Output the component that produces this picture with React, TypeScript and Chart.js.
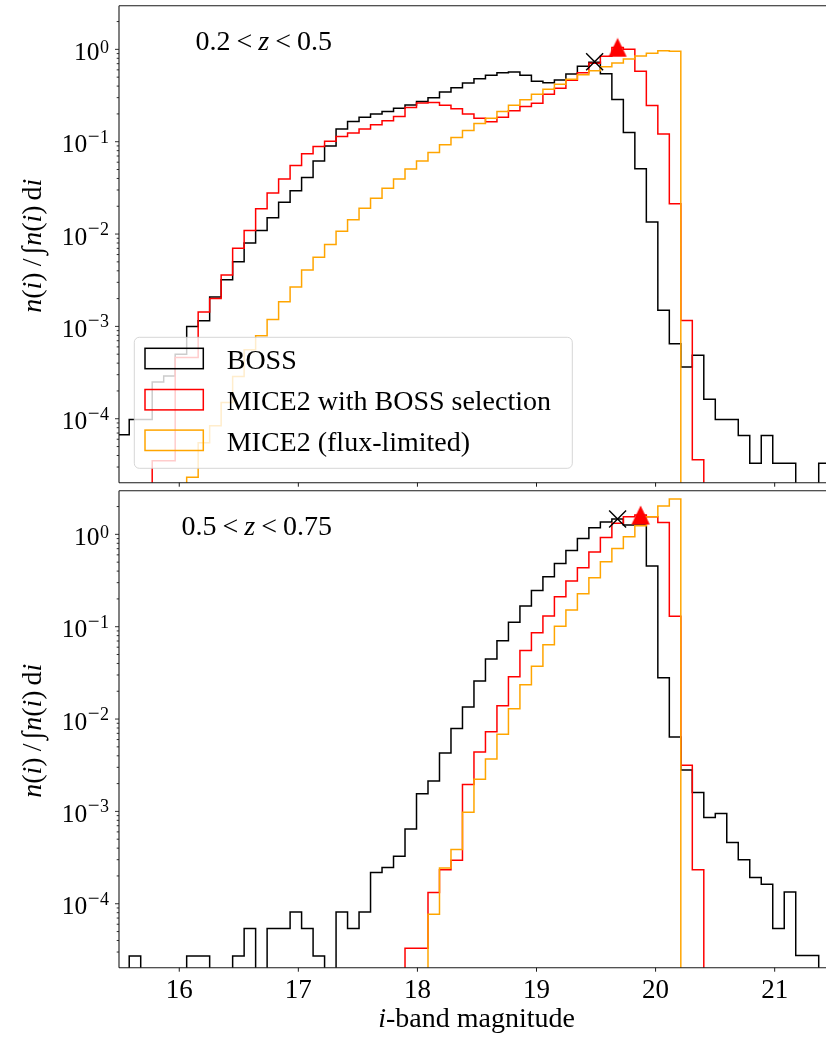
import React, { useEffect, useRef } from "react";
import { Chart, registerables } from "chart.js";

Chart.register(...registerables);

const FONT = "'Liberation Serif', 'Times New Roman', Times, serif";

// ---- histogram binning (i-band magnitude) ----
const BIN_START = 15.4833;
const BIN_WIDTH = 0.0965;

// ---- axes ----
const X_MIN = 15.494;
const X_MAX = 21.431;
const Y_MIN = 2.03e-5;
const Y_MAX = 2.97;
const X_TICKS = [16, 17, 18, 19, 20, 21];
const Y_EXPONENTS = [-4, -3, -2, -1, 0];

const SERIES_LABELS = ["BOSS", "MICE2 with BOSS selection", "MICE2 (flux-limited)"];
const SERIES_COLORS = ["#000000", "#ff0000", "#ffa500"];
const PANEL_RANGES = [["0.2", "0.5"], ["0.5", "0.75"]];

// ---- panel 1: 0.2 < z < 0.5 (normalised counts per bin) ----
const bossLow = [
  6.7e-5, 9.8e-5, 9.8e-5, 2.5e-4, 2.9e-4, 5.0e-4, 1.0e-3, 1.15e-3, 2.08e-3, 3.2e-3,
  5.0e-3, 8.0e-3, 0.0109, 0.015, 0.0221, 0.0295, 0.041, 0.062, 0.09, 0.137,
  0.165, 0.184, 0.199, 0.212, 0.231, 0.25, 0.272, 0.3, 0.346, 0.385,
  0.433, 0.482, 0.523, 0.559, 0.569, 0.523, 0.451, 0.436, 0.466, 0.541,
  0.655, 0.723, 0.545, 0.286, 0.126, 0.051, 0.0135, 1.5e-3, 6.5e-4, 3.64e-4,
  4.88e-4, 1.63e-4, 9.8e-5, 9.8e-5, 6.6e-5, 3.3e-5, 6.6e-5, 3.3e-5, 3.3e-5, 0,
  0, 3.3e-5,
];
const miceSelLow = [
  0, 0, 0, 3.5e-5, 3.5e-5, 4.6e-4, 4.6e-4, 1.43e-3, 2.0e-3, 3.6e-3,
  7.0e-3, 0.0109, 0.0188, 0.0279, 0.0395, 0.0553, 0.074, 0.0888, 0.101, 0.114,
  0.124, 0.137, 0.153, 0.169, 0.187, 0.235, 0.262, 0.265, 0.248, 0.227,
  0.199, 0.18, 0.164, 0.184, 0.216, 0.24, 0.261, 0.327, 0.379, 0.462,
  0.559, 0.706, 0.84, 1.05, 1.0, 0.58, 0.246, 0.121, 0.0213, 1.16e-3,
  3.6e-5, 0, 0, 0, 0, 0, 0, 0, 0, 0,
  0, 0,
];
const miceFluxLow = [
  0, 0, 0, 0, 0, 0, 2.33e-5, 5.5e-5, 8.4e-5, 1.5e-4,
  2.87e-4, 5.6e-4, 7.9e-4, 1.19e-3, 1.85e-3, 2.67e-3, 4.07e-3, 5.6e-3, 7.7e-3, 0.0107,
  0.0143, 0.019, 0.0244, 0.0313, 0.0395, 0.0506, 0.062, 0.0766, 0.0927, 0.111,
  0.132, 0.157, 0.18, 0.212, 0.248, 0.284, 0.327, 0.37, 0.419, 0.474,
  0.532, 0.588, 0.649, 0.711, 0.785, 0.847, 0.905, 0.966, 0.951, 0,
  0, 0, 0, 0, 0, 0, 0, 0, 0, 0,
  0, 0,
];

// ---- panel 2: 0.5 < z < 0.75 ----
const bossHigh = [
  0, 2.72e-5, 0, 0, 0, 0, 2.72e-5, 2.72e-5, 0, 0,
  2.72e-5, 5.4e-5, 0, 5.4e-5, 5.4e-5, 8.15e-5, 5.4e-5, 2.72e-5, 0, 8.15e-5,
  5.4e-5, 8.15e-5, 2.18e-4, 2.47e-4, 3.26e-4, 6.45e-4, 1.55e-3, 2.14e-3, 4.3e-3, 7.9e-3,
  0.0135, 0.0258, 0.0446, 0.0704, 0.112, 0.168, 0.247, 0.347, 0.485, 0.67,
  0.904, 1.18, 1.36, 1.47, 1.26, 1.26, 0.454, 0.028, 6.4e-3, 2.8e-3,
  1.6e-3, 8.6e-4, 9.5e-4, 4.6e-4, 3.0e-4, 1.92e-4, 1.63e-4, 5.4e-5, 1.34e-4, 2.75e-5,
  2.75e-5, 0,
];
const miceSelHigh = [
  0, 0, 0, 0, 0, 0, 0, 0, 0, 0,
  0, 0, 0, 0, 0, 0, 0, 0, 0, 0,
  0, 0, 0, 0, 0, 3.3e-5, 3.3e-5, 1.32e-4, 2.34e-4, 2.96e-4,
  1.95e-3, 4.4e-3, 7.3e-3, 0.0139, 0.0287, 0.0553, 0.0859, 0.131, 0.211, 0.312,
  0.435, 0.643, 0.927, 1.32, 1.55, 1.62, 1.55, 1.34, 0.13, 3.17e-3,
  2.34e-4, 0, 0, 0, 0, 0, 0, 0, 0, 0,
  0, 0,
];
const miceFluxHigh = [
  0, 0, 0, 0, 0, 0, 0, 0, 0, 0,
  0, 0, 0, 0, 0, 0, 0, 0, 0, 0,
  0, 0, 0, 0, 0, 0, 0, 7.7e-5, 2.44e-4, 3.86e-4,
  9.8e-4, 2.23e-3, 3.7e-3, 6.86e-3, 0.0129, 0.0235, 0.0374, 0.0637, 0.101, 0.152,
  0.227, 0.339, 0.505, 0.705, 0.942, 1.24, 1.55, 2.03, 2.41, 0,
  0, 0, 0, 0, 0, 0, 0, 0, 0, 0,
  0, 0,
];

// ---- peak markers [magnitude, value] ----
const peakBossLow = [19.488, 0.735];
const peakMiceLow = [19.681, 1.05];
const peakBossHigh = [19.681, 1.47];
const peakMiceHigh = [19.874, 1.62];

const FLOOR = 1e-9;

function stepPoints(values: number[]) {
  const pts: { x: number; y: number }[] = [{ x: BIN_START, y: FLOOR }];
  values.forEach((v, i) => pts.push({ x: BIN_START + i * BIN_WIDTH, y: v > 0 ? v : FLOOR }));
  const end = BIN_START + values.length * BIN_WIDTH;
  const last = values[values.length - 1];
  pts.push({ x: end, y: last > 0 ? last : FLOOR });
  pts.push({ x: end, y: FLOOR });
  return pts;
}

function makeTriangle() {
  const c = document.createElement("canvas");
  c.width = 20;
  c.height = 20;
  const g = c.getContext("2d")!;
  g.fillStyle = "#ff0000";
  g.beginPath();
  g.moveTo(10, 0.5);
  g.lineTo(19.2, 19.5);
  g.lineTo(0.8, 19.5);
  g.closePath();
  g.fill();
  return c;
}

type Seg = { t: string; it?: boolean; size?: number; gap?: number };

function setFont(ctx: CanvasRenderingContext2D, size: number, italic = false) {
  ctx.font = `${italic ? "italic " : ""}${size}px ${FONT}`;
}

function segsWidth(ctx: CanvasRenderingContext2D, segs: Seg[], size: number) {
  let w = 0;
  segs.forEach((s) => {
    setFont(ctx, s.size ?? size, s.it);
    w += ctx.measureText(s.t).width + (s.gap ?? 0);
  });
  return w;
}

function drawSegs(ctx: CanvasRenderingContext2D, segs: Seg[], x: number, y: number, size: number) {
  let cx = x;
  segs.forEach((s) => {
    setFont(ctx, s.size ?? size, s.it);
    ctx.fillText(s.t, cx, y);
    cx += ctx.measureText(s.t).width + (s.gap ?? 0);
  });
}

function roundRectPath(ctx: CanvasRenderingContext2D, x: number, y: number, w: number, h: number, r: number) {
  ctx.beginPath();
  ctx.moveTo(x + r, y);
  ctx.lineTo(x + w - r, y);
  ctx.arcTo(x + w, y, x + w, y + r, r);
  ctx.lineTo(x + w, y + h - r);
  ctx.arcTo(x + w, y + h, x + w - r, y + h, r);
  ctx.lineTo(x + r, y + h);
  ctx.arcTo(x, y + h, x, y + h - r, r);
  ctx.lineTo(x, y + r);
  ctx.arcTo(x, y, x + r, y, r);
  ctx.closePath();
}

function drawLegend(ctx: CanvasRenderingContext2D) {
  const L = 134.3, T = 337.3, R = 572.3, B = 468.3;
  ctx.save();
  roundRectPath(ctx, L, T, R - L, B - T, 5);
  ctx.fillStyle = "rgba(255,255,255,0.8)";
  ctx.fill();
  ctx.strokeStyle = "rgba(204,204,204,0.8)";
  ctx.lineWidth = 1;
  ctx.stroke();
  const rows = [358.5, 399.7, 440.3];
  rows.forEach((cy, i) => {
    ctx.strokeStyle = SERIES_COLORS[i];
    ctx.lineWidth = 1.5;
    ctx.strokeRect(145, cy - 10.2, 58.3, 20.4);
    ctx.fillStyle = "#000";
    ctx.textAlign = "left";
    ctx.textBaseline = "alphabetic";
    setFont(ctx, 28);
    ctx.fillText(SERIES_LABELS[i], 226.7, cy + 10.5);
  });
  ctx.restore();
}

function decorPlugin(panel: number, showXLabels: boolean, showLegend: boolean) {
  return {
    id: "decor" + panel,
    afterDatasetsDraw(chart: any) {
      if (showLegend) drawLegend(chart.ctx);
    },
    afterDraw(chart: any) {
      const ctx: CanvasRenderingContext2D = chart.ctx;
      const { left, right, top, bottom } = chart.chartArea;
      const xs = chart.scales.x;
      const ys = chart.scales.y;
      ctx.save();
      ctx.textBaseline = "alphabetic";
      ctx.textAlign = "left";
      ctx.fillStyle = "#000";
      // spines
      ctx.strokeStyle = "#1a1a1a";
      ctx.lineWidth = 1.1;
      ctx.beginPath();
      ctx.moveTo(left, top);
      ctx.lineTo(right, top);
      ctx.moveTo(left, top);
      ctx.lineTo(left, bottom);
      ctx.moveTo(left, bottom);
      ctx.lineTo(right, bottom);
      ctx.stroke();
      // x ticks
      ctx.lineWidth = 1;
      ctx.beginPath();
      X_TICKS.forEach((t) => {
        const px = xs.getPixelForValue(t);
        ctx.moveTo(px, bottom);
        ctx.lineTo(px, bottom + 4);
      });
      ctx.stroke();
      // y ticks (major + minor)
      ctx.beginPath();
      for (let e = -6; e <= 1; e++) {
        for (let m = 1; m <= 9; m++) {
          const v = m * Math.pow(10, e);
          if (v < Y_MIN || v > Y_MAX) continue;
          const py = ys.getPixelForValue(v);
          const len = m === 1 ? 4 : 2.3;
          ctx.moveTo(left, py);
          ctx.lineTo(left - len, py);
        }
      }
      ctx.lineWidth = 0.9;
      ctx.stroke();
      // y tick labels 10^n
      Y_EXPONENTS.forEach((e) => {
        const py = ys.getPixelForValue(Math.pow(10, e));
        const rightEdge = 109;
        const supSegs: Seg[] = e < 0
          ? [{ t: "\u2212", size: 21, gap: 0.5 }, { t: String(-e), size: 18 }]
          : [{ t: String(e), size: 18 }];
        const supW = segsWidth(ctx, supSegs, 18);
        setFont(ctx, 25.5);
        const baseW = ctx.measureText("10").width;
        drawSegs(ctx, supSegs, rightEdge - supW, py + (e < 0 ? 1 : 3.5), 18);
        setFont(ctx, 25.5);
        ctx.fillText("10", rightEdge - supW - baseW - 0.5, py + 10.5);
      });
      // x tick labels
      if (showXLabels) {
        ctx.textAlign = "center";
        setFont(ctx, 27);
        X_TICKS.forEach((t) => {
          ctx.fillText(String(t), xs.getPixelForValue(t), bottom + 30.6);
        });
        ctx.textAlign = "left";
        const xt: Seg[] = [{ t: "i", it: true }, { t: "-band magnitude" }];
        const w = segsWidth(ctx, xt, 28);
        drawSegs(ctx, xt, 476.5 - w / 2, bottom + 59.6, 28);
      }
      // y axis title (rotated)
      const yt: Seg[] = [
        { t: "n", it: true }, { t: "(" }, { t: "i", it: true }, { t: ")", gap: 6 },
        { t: "/", gap: 4 }, { t: "\u222B", gap: 1 },
        { t: "n", it: true }, { t: "(" }, { t: "i", it: true }, { t: ")", gap: 5 },
        { t: "d" }, { t: "i", it: true },
      ];
      const yw = segsWidth(ctx, yt, 28);
      ctx.save();
      ctx.translate(40.7, (top + bottom) / 2 + 1.5);
      ctx.rotate(-Math.PI / 2);
      drawSegs(ctx, yt, -yw / 2, 0, 28);
      ctx.restore();
      // redshift annotation
      const [lo, hi] = PANEL_RANGES[panel];
      const an: Seg[] = [
        { t: lo, gap: 6 }, { t: "<", gap: 6 }, { t: "z", it: true, gap: 6 }, { t: "<", gap: 6 }, { t: hi },
      ];
      const aw = segsWidth(ctx, an, 28);
      drawSegs(ctx, an, 332 - aw, top + 44.3, 28);
      ctx.restore();
    },
  };
}

function buildConfig(
  panel: number,
  series: number[][],
  peakBoss: number[],
  peakMice: number[],
  tri: HTMLCanvasElement,
  padding: any,
) {
  const lineSets = series.map((vals, i) => ({
    type: "line",
    label: SERIES_LABELS[i],
    data: stepPoints(vals),
    borderColor: SERIES_COLORS[i],
    backgroundColor: SERIES_COLORS[i],
    borderWidth: 1.5,
    pointRadius: 0,
    pointHoverRadius: 0,
    stepped: "before",
    fill: false,
    tension: 0,
    borderJoinStyle: "miter",
    borderCapStyle: "butt",
  }));
  const markerSets = [
    {
      type: "line",
      label: "MICE2 peak",
      data: [{ x: peakMice[0], y: peakMice[1] }],
      showLine: false,
      pointStyle: tri,
      pointRadius: 10,
      borderColor: "#ff0000",
      backgroundColor: "#ff0000",
    },
    {
      type: "line",
      label: "BOSS peak",
      data: [{ x: peakBoss[0], y: peakBoss[1] }],
      showLine: false,
      pointStyle: "crossRot",
      pointRadius: 12,
      borderColor: "#000000",
      backgroundColor: "#000000",
      pointBorderWidth: 1.4,
      borderWidth: 1.4,
    },
  ];
  return {
    type: "line",
    data: { datasets: [...markerSets, ...lineSets.slice().reverse()] },
    options: {
      responsive: false,
      animation: false,
      devicePixelRatio: 1,
      events: [],
      layout: { padding, autoPadding: false },
      scales: {
        x: { type: "linear", min: X_MIN, max: X_MAX, display: false },
        y: { type: "logarithmic", min: Y_MIN, max: Y_MAX, display: false },
      },
      plugins: { legend: { display: false }, tooltip: { enabled: false } },
    },
    plugins: [decorPlugin(panel, panel === 1, panel === 0)],
  } as any;
}

export default function App() {
  const topRef = useRef<HTMLCanvasElement>(null);
  const botRef = useRef<HTMLCanvasElement>(null);

  useEffect(() => {
    const tri = makeTriangle();
    const c1 = new Chart(
      topRef.current!,
      buildConfig(0, [bossLow, miceSelLow, miceFluxLow], peakBossLow, peakMiceLow, tri, {
        left: 119, top: 5.7, right: 0, bottom: 4.3,
      }),
    );
    const c2 = new Chart(
      botRef.current!,
      buildConfig(1, [bossHigh, miceSelHigh, miceFluxHigh], peakBossHigh, peakMiceHigh, tri, {
        left: 119, top: 3.7, right: 0, bottom: 70.3,
      }),
    );
    return () => {
      c1.destroy();
      c2.destroy();
    };
  }, []);

  return (
    <div style={{ position: "absolute", left: 0, top: 0, width: 826, height: 1038, background: "#fff", overflow: "hidden" }}>
      <canvas
        ref={topRef}
        width={826}
        height={487}
        style={{ position: "absolute", left: 0, top: 0, width: 826, height: 487 }}
      />
      <canvas
        ref={botRef}
        width={826}
        height={551}
        style={{ position: "absolute", left: 0, top: 487, width: 826, height: 551 }}
      />
    </div>
  );
}
